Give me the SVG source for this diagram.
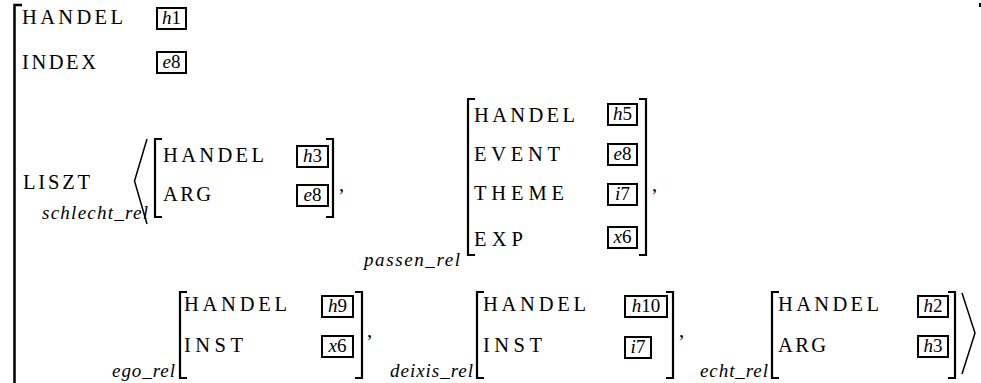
<svg xmlns="http://www.w3.org/2000/svg" width="981" height="383" viewBox="0 0 981 383">
<style>
.k{font-family:"Liberation Serif",serif;font-size:20.5px;fill:#000}
.v{font-family:"Liberation Serif",serif;font-size:19px;font-style:italic;fill:#000;text-anchor:middle}
.d{font-style:normal}
.s{font-family:"Liberation Serif",serif;font-size:19px;font-style:italic;fill:#000}
.br{fill:none;stroke:#000;stroke-width:2.2}
.ang{fill:none;stroke:#000;stroke-width:1.5}
.bx{fill:none;stroke:#000;stroke-width:2}
</style>
<rect width="981" height="383" fill="#fff"/>
<g id="outer">
<path class="br" d="M22,5 H14.5 V383" style="stroke-width:2.5"/>
<rect x="979" y="3" width="2" height="4" fill="#000"/>
<text class="k" x="22" y="24" textLength="101" lengthAdjust="spacing">HANDEL</text>
<rect class="bx" x="157" y="8" width="29" height="21"/>
<text class="v" x="171.5" y="24">h<tspan class="d">1</tspan></text>
<text class="k" x="22" y="69" textLength="74" lengthAdjust="spacing">INDEX</text>
<rect class="bx" x="157" y="52" width="29" height="21"/>
<text class="v" x="171.5" y="68">e<tspan class="d">8</tspan></text>
<text class="k" x="23" y="189" textLength="67" lengthAdjust="spacing">LISZT</text>
<polyline class="ang" points="147,139 134.5,181 147,224"/>
<polyline class="ang" points="962,293 975,333 962,374"/>
</g>
<g id="schlecht_rel">
<text class="s" x="42" y="219" textLength="106" lengthAdjust="spacing">schlecht_rel</text>
<path class="br" d="M162,139 H155 V217 H162"/>
<text class="k" x="163" y="162" textLength="101" lengthAdjust="spacing">HANDEL</text>
<rect class="bx" x="297" y="146" width="31" height="21"/>
<text class="v" x="312.5" y="162">h<tspan class="d">3</tspan></text>
<text class="k" x="163" y="201" textLength="48" lengthAdjust="spacing">ARG</text>
<rect class="bx" x="297" y="185" width="31" height="21"/>
<text class="v" x="312.5" y="201">e<tspan class="d">8</tspan></text>
<path class="br" d="M326,139 H333 V217 H326"/>
<text class="k" x="339" y="191">,</text>
</g>
<g id="passen_rel">
<text class="s" x="364" y="266" textLength="96" lengthAdjust="spacing">passen_rel</text>
<path class="br" d="M475,99 H468 V255 H475"/>
<text class="k" x="474" y="122" textLength="101" lengthAdjust="spacing">HANDEL</text>
<rect class="bx" x="608" y="104" width="29" height="21"/>
<text class="v" x="622.5" y="120">h<tspan class="d">5</tspan></text>
<text class="k" x="474" y="161" textLength="86" lengthAdjust="spacing">EVENT</text>
<rect class="bx" x="608" y="144" width="29" height="21"/>
<text class="v" x="622.5" y="160">e<tspan class="d">8</tspan></text>
<text class="k" x="474" y="200" textLength="90" lengthAdjust="spacing">THEME</text>
<rect class="bx" x="608" y="184" width="29" height="21"/>
<text class="v" x="622.5" y="200">i<tspan class="d">7</tspan></text>
<text class="k" x="474" y="246" textLength="49" lengthAdjust="spacing">EXP</text>
<rect class="bx" x="608" y="227" width="29" height="21"/>
<text class="v" x="622.5" y="243">x<tspan class="d">6</tspan></text>
<path class="br" d="M639,99 H646 V255 H639"/>
<text class="k" x="652" y="191">,</text>
</g>
<g id="ego_rel">
<text class="s" x="112" y="377" textLength="63" lengthAdjust="spacing">ego_rel</text>
<path class="br" d="M187,292 H180 V378 H187"/>
<text class="k" x="184" y="311" textLength="103" lengthAdjust="spacing">HANDEL</text>
<rect class="bx" x="322" y="296" width="31" height="21"/>
<text class="v" x="337.5" y="312">h<tspan class="d">9</tspan></text>
<text class="k" x="184" y="352" textLength="59" lengthAdjust="spacing">INST</text>
<rect class="bx" x="322" y="336" width="31" height="21"/>
<text class="v" x="337.5" y="352">x<tspan class="d">6</tspan></text>
<path class="br" d="M355,292 H362 V378 H355"/>
<text class="k" x="367" y="337">,</text>
</g>
<g id="deixis_rel">
<text class="s" x="390" y="377" textLength="83" lengthAdjust="spacing">deixis_rel</text>
<path class="br" d="M484,292 H477 V378 H484"/>
<text class="k" x="483" y="311" textLength="103" lengthAdjust="spacing">HANDEL</text>
<rect class="bx" x="625" y="296" width="42" height="21"/>
<text class="v" x="646" y="312">h<tspan class="d">10</tspan></text>
<text class="k" x="483" y="352" textLength="59" lengthAdjust="spacing">INST</text>
<rect class="bx" x="625" y="337" width="26" height="21"/>
<text class="v" x="638" y="353">i<tspan class="d">7</tspan></text>
<path class="br" d="M666,292 H673 V378 H666"/>
<text class="k" x="679" y="337">,</text>
</g>
<g id="echt_rel">
<text class="s" x="700" y="377" textLength="68" lengthAdjust="spacing">echt_rel</text>
<path class="br" d="M779,292 H772 V378 H779"/>
<text class="k" x="778" y="311" textLength="101" lengthAdjust="spacing">HANDEL</text>
<rect class="bx" x="918" y="296" width="30" height="21"/>
<text class="v" x="933" y="312">h<tspan class="d">2</tspan></text>
<text class="k" x="778" y="352" textLength="48" lengthAdjust="spacing">ARG</text>
<rect class="bx" x="918" y="336" width="30" height="21"/>
<text class="v" x="933" y="352">h<tspan class="d">3</tspan></text>
<path class="br" d="M948,292 H955 V378 H948"/>
</g>
<g id="connectors"/>
</svg>
